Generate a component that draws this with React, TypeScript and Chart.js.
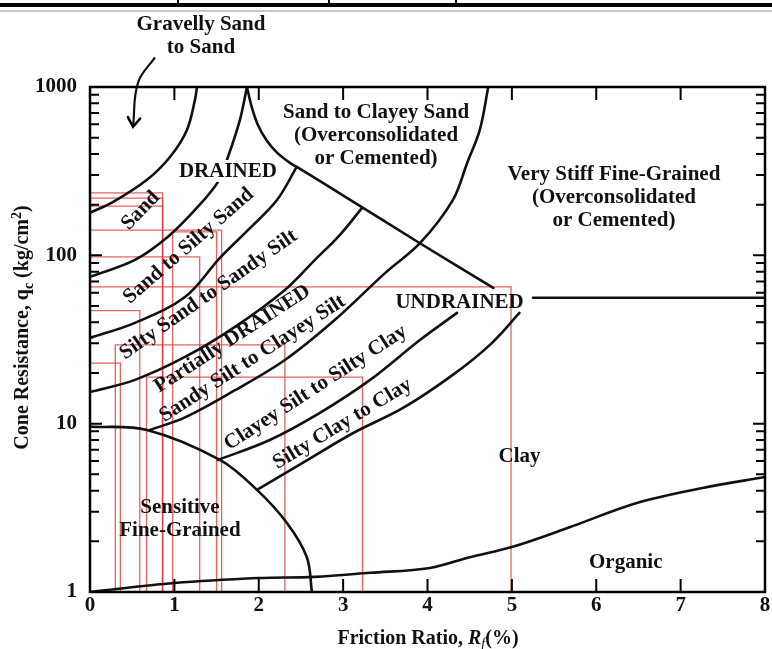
import React, { useEffect, useRef } from "react";
import { Chart, registerables } from "chart.js";

Chart.register(...registerables);

const FONT = '"Liberation Serif", "Times New Roman", serif';

// ---- axis ticks ----
const rfTicks = [0, 1, 2, 3, 4, 5, 6, 7, 8];
const qcMajorTicks = [1, 10, 100, 1000];
const qcMinorTicks = [2, 3, 4, 5, 6, 7, 8, 9, 20, 30, 40, 50, 60, 70, 80, 90, 200, 300, 400, 500, 600, 700, 800, 900];

// ---- zone boundaries: [Rf (%), qc (kg/cm2)] ----
const gravellySandBoundary = [[0, 179], [0.27, 207], [0.675, 281], [0.948, 384], [1.149, 556], [1.244, 838], [1.268, 1000]];
const sandBoundary = [[0, 74.5], [0.533, 94], [0.924, 129], [1.244, 186], [1.517, 273], [1.635, 384], [1.777, 638], [1.86, 1000]];
const sandToSiltySandBoundary = [[0, 32.3], [0.533, 39.7], [1.126, 56.6], [1.54, 96.6], [1.896, 145], [2.216, 213], [2.45, 335]];
const siltySandBoundary = [[0, 15.4], [0.533, 18.2], [1.126, 24.9], [1.718, 37.6], [2.31, 62.3], [2.666, 94], [2.96, 132], [3.22, 190]];
const sandySiltBoundary = [[0.711, 9.18], [1.126, 10.9], [1.718, 15.8], [2.31, 23.9], [2.9, 41.3], [3.5, 78.7], [3.91, 118], [4.3, 213], [4.47, 354], [4.62, 556], [4.72, 1000]];
const clayeySiltBoundary = [[1.517, 6.09], [2.13, 8.0], [2.725, 11.6], [3.32, 18.2], [3.91, 31.4], [4.35, 45.5]];
const siltyClayBoundary = [[1.979, 4.04], [2.52, 5.85], [3.12, 8.8], [3.71, 12.4], [4.3, 19.5], [4.74, 29.4], [5.09, 45.5]];
const sensitiveBoundary = [[0, 9.6], [0.675, 9.18], [1.54, 6.09], [1.979, 4.04], [2.334, 2.57], [2.57, 1.61], [2.63, 1]];
const organicBoundary = [[0, 1], [1, 1.13], [2, 1.21], [2.66, 1.23], [3.32, 1.3], [4.03, 1.39], [4.5, 1.61], [5.0, 1.85], [5.69, 2.43], [6.48, 3.38], [7.26, 4.15], [8, 4.82]];
const overconsolidatedBoundary = [[1.86, 1000], [1.92, 751], [1.99, 595], [2.09, 485], [2.22, 406], [2.37, 354], [2.49, 326], [3.05, 219], [3.91, 118], [4.78, 64]];
const undrainedBoundary = [[5.25, 56], [8, 56]];
const gravellyArrow = [[0.77, 1500], [0.569, 1060], [0.51, 580]];

const boundaries = [
  gravellySandBoundary, sandBoundary, sandToSiltySandBoundary, siltySandBoundary,
  sandySiltBoundary, clayeySiltBoundary, siltyClayBoundary, sensitiveBoundary,
  organicBoundary, overconsolidatedBoundary, undrainedBoundary,
];

// ---- red data boxes ----
const boxRfStart = [0, 0, 0, 0, 0.98, 0, 0, 0, 0.3, 0, 0.67];
const boxRfEnd = [0.86, 0.86, 0.86, 1.56, 1.5, 1.3, 4.99, 0.59, 2.31, 0.36, 3.23];
const boxQcTop = [235, 219, 196, 141, 138, 98, 65, 47, 29.4, 22.9, 18.9];

// ---- zone labels ----
const zoneText = [
  ["Gravelly Sand", "to Sand"],
  ["DRAINED"],
  ["Sand to Clayey Sand", "(Overconsolidated", "or Cemented)"],
  ["Very Stiff Fine-Grained", "(Overconsolidated", "or Cemented)"],
  ["UNDRAINED"],
  ["Clay"],
  ["Organic"],
  ["Sensitive", "Fine-Grained"],
  ["Sand"],
  ["Sand to Silty Sand"],
  ["Silty Sand to Sandy Silt"],
  ["Partially DRAINED"],
  ["Sandy Silt to Clayey Silt"],
  ["Clayey Silt to Silty Clay"],
  ["Silty Clay to Clay"],
];
const zoneRf = [1.315, 1.635, 3.39, 6.21, 4.38, 5.09, 6.35, 1.066, 0.592, 1.161, 1.398, 1.682, 1.919, 2.666, 2.986];
const zoneQc = [2040, 317, 519, 222, 52.9, 6.5, 1.51, 2.75, 186, 115, 59, 32.3, 24.6, 16.5, 10.1];
const zoneAngle = [0, 0, 0, 0, 0, 0, 0, 0, -46, -41, -35, -33, -33, -33, -31];
const zoneWhiteBg = [false, true, false, false, false, false, false, false, false, false, false, false, false, false, false];

const toXY = (pts: number[][]) => pts.map(([x, y]) => ({ x, y }));

const decorPlugin = {
  id: "decor",
  afterDatasetsDraw(chart: any) {
    const { ctx, chartArea: a } = chart;
    const xs = chart.scales.x;
    const ys = chart.scales.y;
    ctx.save();

    // table strip at very top of page
    ctx.fillStyle = "#000";
    ctx.fillRect(0, 3, 772, 4);
    for (const vx of [178, 329, 456]) ctx.fillRect(vx - 1, 0, 2, 7);
    ctx.fillStyle = "#c8c8c8";
    ctx.fillRect(0, 10, 772, 2);

    // frame
    ctx.strokeStyle = "#000";
    ctx.lineWidth = 2.5;
    ctx.strokeRect(a.left, a.top, a.right - a.left, a.bottom - a.top);

    // inward tick marks
    ctx.lineWidth = 2;
    ctx.beginPath();
    for (const v of rfTicks) {
      const px = xs.getPixelForValue(v);
      ctx.moveTo(px, a.bottom); ctx.lineTo(px, a.bottom - 13);
      ctx.moveTo(px, a.top); ctx.lineTo(px, a.top + 13);
    }
    for (const v of qcMajorTicks) {
      const py = ys.getPixelForValue(v);
      ctx.moveTo(a.left, py); ctx.lineTo(a.left + 12, py);
      ctx.moveTo(a.right, py); ctx.lineTo(a.right - 12, py);
    }
    for (const v of qcMinorTicks) {
      const py = ys.getPixelForValue(v);
      ctx.moveTo(a.left, py); ctx.lineTo(a.left + 9, py);
      ctx.moveTo(a.right, py); ctx.lineTo(a.right - 9, py);
    }
    ctx.stroke();

    // arrow head of gravelly-sand pointer
    const n = gravellyArrow.length;
    const tx = xs.getPixelForValue(gravellyArrow[n - 1][0]);
    const ty = ys.getPixelForValue(gravellyArrow[n - 1][1]);
    const bx = xs.getPixelForValue(gravellyArrow[n - 2][0]);
    const by = ys.getPixelForValue(gravellyArrow[n - 2][1]);
    const ang = Math.atan2(ty - by, tx - bx);
    ctx.lineWidth = 2.5;
    ctx.lineCap = "round";
    ctx.beginPath();
    ctx.moveTo(tx + 11 * Math.cos(ang + Math.PI - 0.6), ty + 11 * Math.sin(ang + Math.PI - 0.6));
    ctx.lineTo(tx, ty);
    ctx.lineTo(tx + 11 * Math.cos(ang + Math.PI + 0.6), ty + 11 * Math.sin(ang + Math.PI + 0.6));
    ctx.stroke();

    // zone labels
    ctx.font = `bold 21px ${FONT}`;
    ctx.textAlign = "center";
    ctx.textBaseline = "middle";
    const lh = 23;
    zoneText.forEach((lines, i) => {
      const px = xs.getPixelForValue(zoneRf[i]);
      const py = ys.getPixelForValue(zoneQc[i]);
      ctx.save();
      ctx.translate(px, py);
      ctx.rotate((zoneAngle[i] * Math.PI) / 180);
      lines.forEach((t, k) => {
        const yy = (k - (lines.length - 1) / 2) * lh;
        if (zoneWhiteBg[i]) {
          const w = ctx.measureText(t).width;
          ctx.fillStyle = "#fff";
          ctx.fillRect(-w / 2 - 4, yy - 11, w + 8, 22);
        }
        ctx.fillStyle = "#111";
        ctx.fillText(t, 0, yy + 1);
      });
      ctx.restore();
    });

    // y axis title with subscript / superscript
    ctx.save();
    ctx.translate(21, (a.top + a.bottom) / 2 - 12);
    ctx.rotate(-Math.PI / 2);
    ctx.textAlign = "left";
    ctx.textBaseline = "alphabetic";
    ctx.fillStyle = "#111";
    const big = `bold 20px ${FONT}`;
    const small = `bold 14px ${FONT}`;
    const yParts = [
      { t: "Cone Resistance, q", f: big, dy: 0 },
      { t: "c", f: small, dy: 5 },
      { t: " (kg/cm", f: big, dy: 0 },
      { t: "2", f: small, dy: -7 },
      { t: ")", f: big, dy: 0 },
    ];
    let tot = 0;
    for (const p of yParts) { ctx.font = p.f; tot += ctx.measureText(p.t).width; }
    let cx = -tot / 2;
    for (const p of yParts) { ctx.font = p.f; ctx.fillText(p.t, cx, 7 + p.dy); cx += ctx.measureText(p.t).width; }
    ctx.restore();

    // x axis title
    ctx.save();
    ctx.textAlign = "left";
    ctx.textBaseline = "alphabetic";
    ctx.fillStyle = "#111";
    const xParts = [
      { t: "Friction Ratio, ", f: big, dy: 0 },
      { t: "R", f: `italic bold 20px ${FONT}`, dy: 0 },
      { t: "f", f: `italic 14px ${FONT}`, dy: 4 },
      { t: "(%)", f: big, dy: 0 },
    ];
    tot = 0;
    for (const p of xParts) { ctx.font = p.f; tot += ctx.measureText(p.t).width; }
    cx = 428 - tot / 2;
    for (const p of xParts) { ctx.font = p.f; ctx.fillText(p.t, cx, 644 + p.dy); cx += ctx.measureText(p.t).width; }
    ctx.restore();

    ctx.restore();
  },
};

export default function App() {
  const ref = useRef<HTMLCanvasElement | null>(null);

  useEffect(() => {
    if (!ref.current) return;
    const datasets: any[] = [];
    boundaries.forEach((pts) => {
      datasets.push({
        data: toXY(pts),
        showLine: true,
        borderColor: "#111",
        borderWidth: 2.6,
        pointRadius: 0,
        tension: 0.35,
        borderCapStyle: "round",
        borderJoinStyle: "round",
        fill: false,
      });
    });
    datasets.push({
      data: toXY(gravellyArrow),
      showLine: true,
      borderColor: "#111",
      borderWidth: 2.2,
      pointRadius: 0,
      tension: 0.4,
      clip: false,
      fill: false,
    });
    boxQcTop.forEach((top, i) => {
      datasets.push({
        data: toXY([[boxRfStart[i], 1], [boxRfStart[i], top], [boxRfEnd[i], top], [boxRfEnd[i], 1]]),
        showLine: true,
        borderColor: "rgba(222,60,60,0.8)",
        borderWidth: 1.3,
        pointRadius: 0,
        tension: 0,
        fill: false,
      });
    });

    const chart = new Chart(ref.current, {
      type: "scatter",
      data: { datasets },
      options: {
        animation: false,
        responsive: false,
        devicePixelRatio: 1,
        layout: { padding: { top: 87, right: 7, left: 0, bottom: 0 } },
        plugins: { legend: { display: false }, tooltip: { enabled: false } },
        scales: {
          x: {
            type: "linear",
            min: 0,
            max: 8,
            afterBuildTicks: (s: any) => { s.ticks = rfTicks.map((v) => ({ value: v })); },
            afterFit: (s: any) => { s.height = 57; },
            grid: { display: false, drawTicks: false },
            border: { display: false },
            ticks: { color: "#111", font: { family: FONT, size: 21, weight: "bold" }, padding: 1, maxRotation: 0, autoSkip: false },
          },
          y: {
            type: "logarithmic",
            min: 1,
            max: 1000,
            afterBuildTicks: (s: any) => { s.ticks = qcMajorTicks.map((v) => ({ value: v, major: true })); },
            afterFit: (s: any) => { s.width = 90; },
            grid: { display: false, drawTicks: false },
            border: { display: false },
            ticks: {
              color: "#111",
              font: { family: FONT, size: 21, weight: "bold" },
              padding: 13,
              autoSkip: false,
              callback: (v: any) => String(v),
            },
          },
        },
      },
      plugins: [decorPlugin],
    } as any);
    return () => chart.destroy();
  }, []);

  return (
    <div style={{ position: "absolute", left: 0, top: 0, width: 772, height: 649, background: "#fff" }}>
      <canvas ref={ref} width={772} height={649} style={{ width: 772, height: 649, display: "block" }} />
    </div>
  );
}
